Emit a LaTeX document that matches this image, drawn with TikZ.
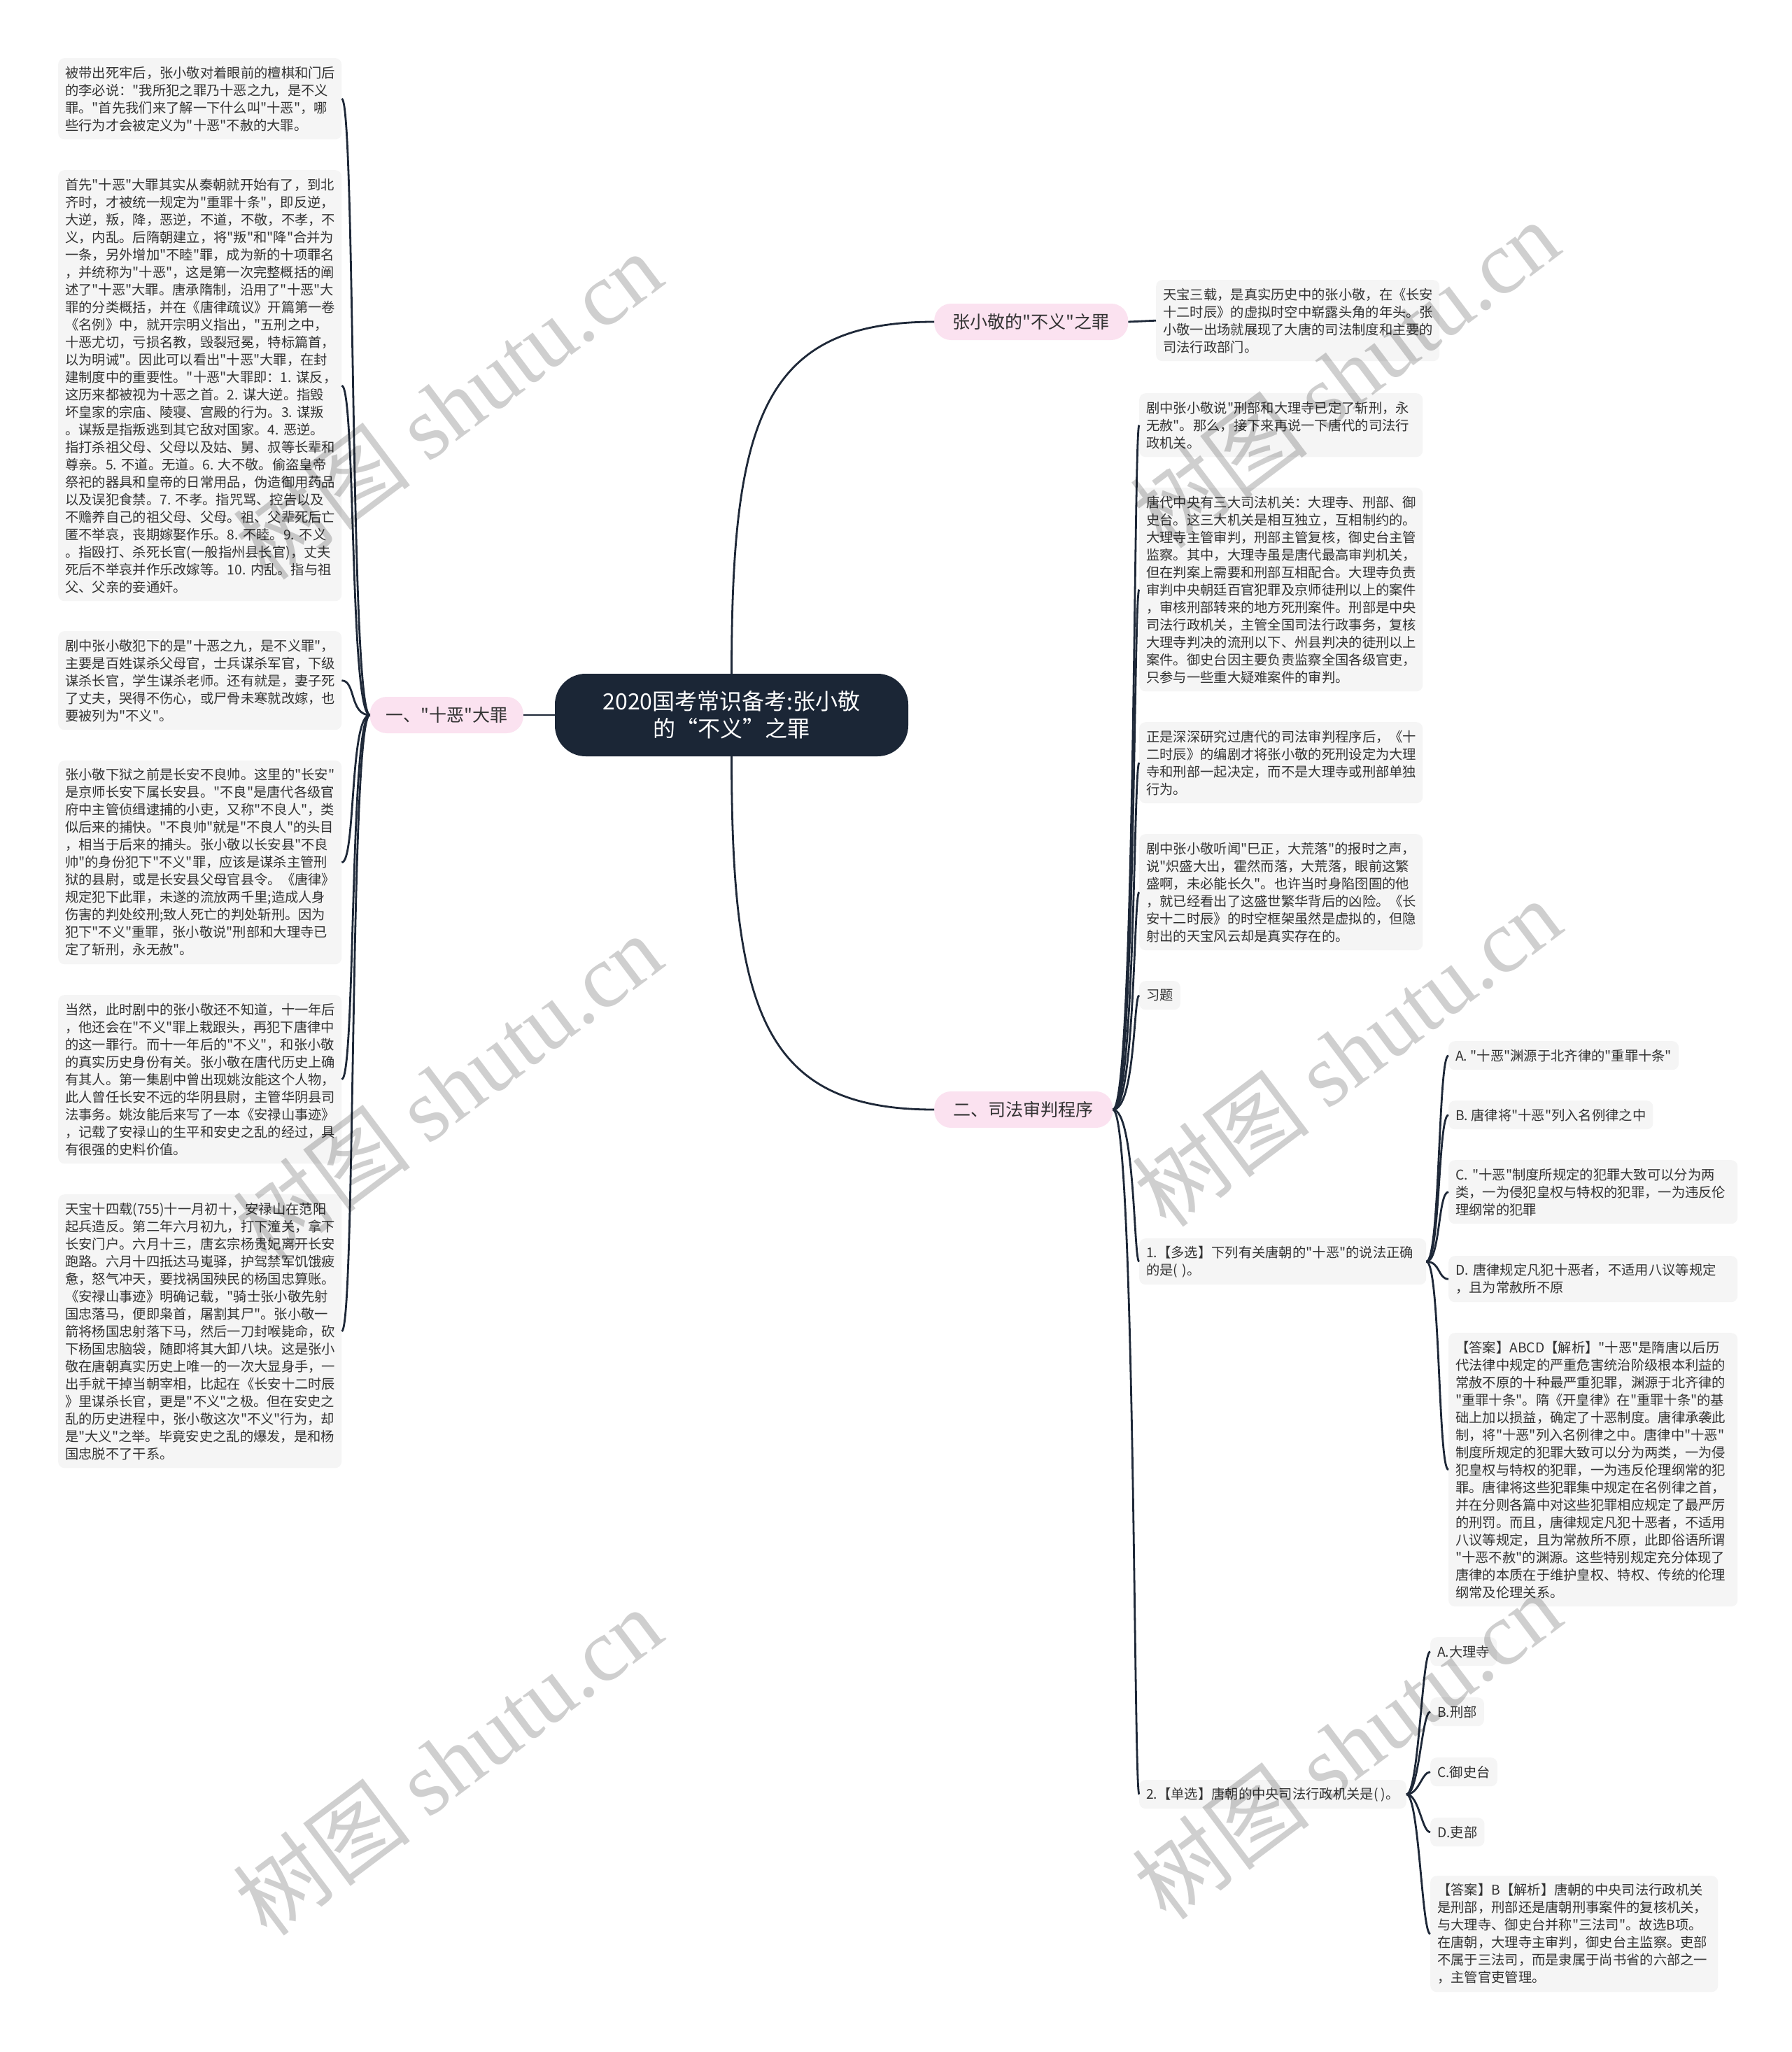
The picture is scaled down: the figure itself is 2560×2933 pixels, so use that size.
\documentclass[tikz,border=0pt]{standalone}
\usepackage{fontspec}
\setmainfont{Noto Sans CJK SC}[Ligatures=TeXOff]
\newfontfamily\wmlat{Liberation Serif}
\definecolor{lineC}{RGB}{30,40,56}
\definecolor{rootC}{RGB}{27,38,54}
\definecolor{pinkC}{RGB}{251,226,240}
\definecolor{boxC}{RGB}{245,245,245}
\definecolor{txtC}{RGB}{51,51,51}
\newcommand\fsbox{\fontsize{19.3pt}{25pt}\selectfont}
\tikzset{
  conn/.style={draw=lineC, line width=2.8pt},
  tbox/.style={fill=boxC, rounded corners=9pt, inner xsep=10pt, inner ysep=0pt, align=left, text=txtC, font=\fsbox, anchor=north west},
  rootbox/.style={fill=rootC, text=white, rounded corners=44pt, minimum width=505pt, minimum height=118pt, align=center, font=\fontsize{32pt}{39pt}\selectfont},
  brbox/.style={fill=pinkC, rounded corners=24pt, minimum height=52pt, inner xsep=0pt, font=\fontsize{25pt}{30pt}\selectfont, text=txtC},
  wm/.style={rotate=37, text=black, opacity=0.19, font=\fontsize{128pt}{132pt}\selectfont}
}
\begin{document}
\begin{tikzpicture}[x=1pt,y=-1pt]
\useasboundingbox (0,0) rectangle (2560,2933);
\fill[white] (0,0) rectangle (2560,2933);

% root and branches
\node[rootbox] (root) at (1045.5,1022) {2020国考常识备考:张小敬\\的“不义”之罪};
\node[brbox, minimum width=219pt, anchor=east] (lb) at (748,1022) {一、"十恶"大罪};
\node[brbox, minimum width=277pt, anchor=west] (b1) at (1335,460) {张小敬的"不义"之罪};
\node[brbox, minimum width=255pt, anchor=west] (b2) at (1335,1586) {二、司法审判程序};

% left children
\node[tbox, text width=385pt, minimum height=116pt] (L1) at (83,83) {被带出死牢后，张小敬对着眼前的檀棋和门后\\的李必说："我所犯之罪乃十恶之九，是不义\\罪。"首先我们来了解一下什么叫"十恶"，哪\\些行为才会被定义为"十恶"不赦的大罪。};
\node[tbox, text width=385pt, minimum height=616pt] (L2) at (83,243) {首先"十恶"大罪其实从秦朝就开始有了，到北\\齐时，才被统一规定为"重罪十条"，即反逆，\\大逆，叛，降，恶逆，不道，不敬，不孝，不\\义，内乱。后隋朝建立，将"叛"和"降"合并为\\一条，另外增加"不睦"罪，成为新的十项罪名\\，并统称为"十恶"，这是第一次完整概括的阐\\述了"十恶"大罪。唐承隋制，沿用了"十恶"大\\罪的分类概括，并在《唐律疏议》开篇第一卷\\《名例》中，就开宗明义指出，"五刑之中，\\十恶尤切，亏损名教，毁裂冠冕，特标篇首，\\以为明诫"。因此可以看出"十恶"大罪，在封\\建制度中的重要性。"十恶"大罪即：1.~谋反，\\这历来都被视为十恶之首。2.~谋大逆。指毁\\坏皇家的宗庙、陵寝、宫殿的行为。3.~谋叛\\。谋叛是指叛逃到其它敌对国家。4.~恶逆。\\指打杀祖父母、父母以及姑、舅、叔等长辈和\\尊亲。5.~不道。无道。6.~大不敬。偷盗皇帝\\祭祀的器具和皇帝的日常用品，伪造御用药品\\以及误犯食禁。7.~不孝。指咒骂、控告以及\\不赡养自己的祖父母、父母。祖、父辈死后亡\\匿不举哀，丧期嫁娶作乐。8.~不睦。9.~不义\\。指殴打、杀死长官(一般指州县长官)，丈夫\\死后不举哀并作乐改嫁等。10.~内乱。指与祖\\父、父亲的妾通奸。};
\node[tbox, text width=385pt, minimum height=141pt] (L3) at (83,902) {剧中张小敬犯下的是"十恶之九，是不义罪"，\\主要是百姓谋杀父母官，士兵谋杀军官，下级\\谋杀长官，学生谋杀老师。还有就是，妻子死\\了丈夫，哭得不伤心，或尸骨未寒就改嫁，也\\要被列为"不义"。};
\node[tbox, text width=385pt, minimum height=291pt] (L4) at (83,1087) {张小敬下狱之前是长安不良帅。这里的"长安"\\是京师长安下属长安县。"不良"是唐代各级官\\府中主管侦缉逮捕的小吏，又称"不良人"，类\\似后来的捕快。"不良帅"就是"不良人"的头目\\，相当于后来的捕头。张小敬以长安县"不良\\帅"的身份犯下"不义"罪，应该是谋杀主管刑\\狱的县尉，或是长安县父母官县令。《唐律》\\规定犯下此罪，未遂的流放两千里;造成人身\\伤害的判处绞刑;致人死亡的判处斩刑。因为\\犯下"不义"重罪，张小敬说"刑部和大理寺已\\定了斩刑，永无赦"。};
\node[tbox, text width=385pt, minimum height=241pt] (L5) at (83,1422) {当然，此时剧中的张小敬还不知道，十一年后\\，他还会在"不义"罪上栽跟头，再犯下唐律中\\的这一罪行。而十一年后的"不义"，和张小敬\\的真实历史身份有关。张小敬在唐代历史上确\\有其人。第一集剧中曾出现姚汝能这个人物，\\此人曾任长安不远的华阴县尉，主管华阴县司\\法事务。姚汝能后来写了一本《安禄山事迹》\\，记载了安禄山的生平和安史之乱的经过，具\\有很强的史料价值。};
\node[tbox, text width=385pt, minimum height=391pt] (L6) at (83,1707) {天宝十四载(755)十一月初十，安禄山在范阳\\起兵造反。第二年六月初九，打下潼关，拿下\\长安门户。六月十三，唐玄宗杨贵妃离开长安\\跑路。六月十四抵达马嵬驿，护驾禁军饥饿疲\\惫，怒气冲天，要找祸国殃民的杨国忠算账。\\《安禄山事迹》明确记载，"骑士张小敬先射\\国忠落马，便即枭首，屠割其尸"。张小敬一\\箭将杨国忠射落下马，然后一刀封喉毙命，砍\\下杨国忠脑袋，随即将其大卸八块。这是张小\\敬在唐朝真实历史上唯一的一次大显身手，一\\出手就干掉当朝宰相，比起在《长安十二时辰\\》里谋杀长官，更是"不义"之极。但在安史之\\乱的历史进程中，张小敬这次"不义"行为，却\\是"大义"之举。毕竟安史之乱的爆发，是和杨\\国忠脱不了干系。};

% right children
\node[tbox, text width=385pt, minimum height=116pt] (c0) at (1652,400) {天宝三载，是真实历史中的张小敬，在《长安\\十二时辰》的虚拟时空中崭露头角的年头。张\\小敬一出场就展现了大唐的司法制度和主要的\\司法行政部门。};
\node[tbox, text width=385pt, minimum height=91pt] (c1) at (1628,562) {剧中张小敬说"刑部和大理寺已定了斩刑，永\\无赦"。那么，接下来再说一下唐代的司法行\\政机关。};
\node[tbox, text width=385pt, minimum height=291pt] (c2) at (1628,697) {唐代中央有三大司法机关：大理寺、刑部、御\\史台。这三大机关是相互独立，互相制约的。\\大理寺主管审判，刑部主管复核，御史台主管\\监察。其中，大理寺虽是唐代最高审判机关，\\但在判案上需要和刑部互相配合。大理寺负责\\审判中央朝廷百官犯罪及京师徒刑以上的案件\\，审核刑部转来的地方死刑案件。刑部是中央\\司法行政机关，主管全国司法行政事务，复核\\大理寺判决的流刑以下、州县判决的徒刑以上\\案件。御史台因主要负责监察全国各级官吏，\\只参与一些重大疑难案件的审判。};
\node[tbox, text width=385pt, minimum height=116pt] (c3) at (1628,1032) {正是深深研究过唐代的司法审判程序后，《十\\二时辰》的编剧才将张小敬的死刑设定为大理\\寺和刑部一起决定，而不是大理寺或刑部单独\\行为。};
\node[tbox, text width=385pt, minimum height=166pt] (c4) at (1628,1192) {剧中张小敬听闻"巳正，大荒落"的报时之声，\\说"炽盛大出，霍然而落，大荒落，眼前这繁\\盛啊，未必能长久"。也许当时身陷囹圄的他\\，就已经看出了这盛世繁华背后的凶险。《长\\安十二时辰》的时空框架虽然是虚拟的，但隐\\射出的天宝风云却是真实存在的。};
\node[tbox, minimum height=41pt] (c5) at (1628,1402) {习题};
\node[tbox, text width=390pt, minimum height=66pt] (c6) at (1628,1770) {1.【多选】下列有关唐朝的"十恶"的说法正确\\的是(~)。};
\node[tbox, minimum height=41pt] (c7) at (1628,2544) {2.【单选】唐朝的中央司法行政机关是(~)。};

% question 1 options
\node[tbox, minimum height=41pt] (A1) at (2070,1488) {A.~"十恶"渊源于北齐律的"重罪十条"};
\node[tbox, minimum height=41pt] (B1) at (2070,1573) {B.~唐律将"十恶"列入名例律之中};
\node[tbox, text width=393pt, minimum height=91pt] (C1) at (2070,1658) {C.~"十恶"制度所规定的犯罪大致可以分为两\\类，一为侵犯皇权与特权的犯罪，一为违反伦\\理纲常的犯罪};
\node[tbox, text width=393pt, minimum height=66pt] (D1) at (2070,1795) {D.~唐律规定凡犯十恶者，不适用八议等规定\\，且为常赦所不原};
\node[tbox, text width=393pt, minimum height=391pt] (E1) at (2070,1905) {【答案】ABCD【解析】"十恶"是隋唐以后历\\代法律中规定的严重危害统治阶级根本利益的\\常赦不原的十种最严重犯罪，渊源于北齐律的\\"重罪十条"。隋《开皇律》在"重罪十条"的基\\础上加以损益，确定了十恶制度。唐律承袭此\\制，将"十恶"列入名例律之中。唐律中"十恶"\\制度所规定的犯罪大致可以分为两类，一为侵\\犯皇权与特权的犯罪，一为违反伦理纲常的犯\\罪。唐律将这些犯罪集中规定在名例律之首，\\并在分则各篇中对这些犯罪相应规定了最严厉\\的刑罚。而且，唐律规定凡犯十恶者，不适用\\八议等规定，且为常赦所不原，此即俗语所谓\\"十恶不赦"的渊源。这些特别规定充分体现了\\唐律的本质在于维护皇权、特权、传统的伦理\\纲常及伦理关系。};

% question 2 options
\node[tbox, minimum height=41pt] (A2) at (2044,2340) {A.大理寺};
\node[tbox, minimum height=41pt] (B2) at (2044,2426) {B.刑部};
\node[tbox, minimum height=41pt] (C2) at (2044,2512) {C.御史台};
\node[tbox, minimum height=41pt] (D2) at (2044,2598) {D.吏部};
\node[tbox, text width=391pt, minimum height=166pt] (E2) at (2044,2681) {【答案】B【解析】唐朝的中央司法行政机关\\是刑部，刑部还是唐朝刑事案件的复核机关，\\与大理寺、御史台并称"三法司"。故选B项。\\在唐朝，大理寺主审判，御史台主监察。吏部\\不属于三法司，而是隶属于尚书省的六部之一\\，主管官吏管理。};

% connectors
\draw[conn] (root.west) -- (lb.east);
\draw[conn] (root.north) .. controls +(0,-363) and +(-245,0) .. (b1.west);
\draw[conn] (root.south) .. controls +(0,363) and +(-245,0) .. (b2.west);
\draw[conn] (b1.east) -- (c0.west);
\foreach \t in {L1,L2,L3,L4,L5,L6}
  \draw[conn] (lb.west) .. controls +(-29,0) and +(20,0) .. (\t.east);
\foreach \t in {c1,c2,c3,c4,c5,c6,c7}
  \draw[conn] (b2.east) .. controls +(32,0) and +(-8,0) .. (\t.west);
\foreach \t in {A1,B1,C1,D1,E1}
  \draw[conn] (c6.east) .. controls +(20,0) and +(-15,0) .. (\t.west);
\foreach \t in {A2,B2,C2,D2,E2}
  \draw[conn] (c7.east) .. controls +(18,0) and +(-12,0) .. (\t.west);

% watermarks
\node[wm] (wm1) at (640,580) {树图 {\wmlat shutu.cn}};
\node[wm] (wm2) at (640,1555) {树图 {\wmlat shutu.cn}};
\node[wm] (wm3) at (640,2518) {树图 {\wmlat shutu.cn}};
\node[wm] (wm4) at (1922,535) {树图 {\wmlat shutu.cn}};
\node[wm] (wm5) at (1925,1505) {树图 {\wmlat shutu.cn}};
\node[wm] (wm6) at (1925,2495) {树图 {\wmlat shutu.cn}};
\end{tikzpicture}
\end{document}
